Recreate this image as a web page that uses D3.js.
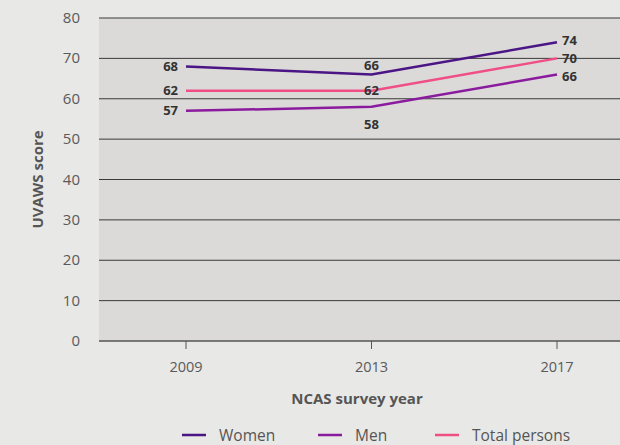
<!DOCTYPE html>
<html>
<head>
<meta charset="utf-8">
<script src="https://cdn.jsdelivr.net/npm/d3@7"></script>
<style>
  body { margin: 0; background: #e8e8e6; }
  svg { display: block; font-family: "Open Sans", "Noto Sans", sans-serif; }
</style>
</head>
<body>
<div id="chart"></div>
<script>
const years = ["2009", "2013", "2017"];
const women = [68, 66, 74];
const men = [57, 58, 66];
const total = [62, 62, 70];
const yTicks = [0, 10, 20, 30, 40, 50, 60, 70, 80];

const series = [
    {name: "Women", values: women, color: "#4b1585", labelDy: [0, -9, -1.5]},
    {name: "Men", values: men, color: "#8b1b9e", labelDy: [0, 18, 1.5]},
    {name: "Total persons", values: total, color: "#f04e87", labelDy: [0, 0, 0]}
];

let width = 620, height = 445;
let plotLeft = 99, plotRight = 620, plotTop = 18, plotBottom = 341;

let svg = d3.select("#chart").append("svg")
    .attr("width", width)
    .attr("height", height);

let x = d3.scalePoint().domain(years).range([186, 557]);
let y = d3.scaleLinear().domain([0, 80]).range([plotBottom, plotTop]);

// plot background
svg.append("rect")
    .attr("x", plotLeft).attr("y", plotTop)
    .attr("width", plotRight - plotLeft).attr("height", plotBottom - plotTop)
    .attr("fill", "#dbdad8");

// gridlines + y labels
let grid = svg.append("g");
grid.selectAll("line").data(yTicks).enter().append("line")
    .attr("x1", plotLeft).attr("x2", plotRight)
    .attr("y1", d => y(d)).attr("y2", d => y(d))
    .attr("stroke", d => d === 0 ? "#555" : "#3a3a3a")
    .attr("stroke-width", d => d === 0 ? 1.5 : 1);
grid.selectAll("text").data(yTicks).enter().append("text")
    .attr("x", 80).attr("y", d => y(d) + 5)
    .attr("text-anchor", "end")
    .attr("font-size", 15)
    .attr("fill", "#5a5a5a")
    .text(d => d);

// x axis ticks + labels
let xa = svg.append("g");
xa.selectAll("line").data(years).enter().append("line")
    .attr("x1", d => x(d)).attr("x2", d => x(d))
    .attr("y1", plotBottom).attr("y2", plotBottom + 8)
    .attr("stroke", "#555").attr("stroke-width", 1);
xa.selectAll("text").data(years).enter().append("text")
    .attr("x", d => x(d)).attr("y", plotBottom + 31)
    .attr("text-anchor", "middle")
    .attr("font-size", 14.5)
    .attr("fill", "#5a5a5a")
    .text(d => d);

// axis titles
svg.append("text")
    .attr("transform", "translate(43," + ((plotTop + plotBottom) / 2) + ") rotate(-90)")
    .attr("text-anchor", "middle")
    .attr("font-size", 15).attr("font-weight", "bold")
    .attr("fill", "#555")
    .text("UVAWS score");
svg.append("text")
    .attr("x", 357).attr("y", 404)
    .attr("text-anchor", "middle")
    .attr("font-size", 15).attr("font-weight", "bold")
    .attr("fill", "#555")
    .text("NCAS survey year");

// lines
let line = d3.line().x((d, i) => x(years[i])).y(d => y(d));
series.forEach(s => {
    svg.append("path")
        .datum(s.values)
        .attr("d", line)
        .attr("fill", "none")
        .attr("stroke", s.color)
        .attr("stroke-width", 2.5);
});

// value labels
series.forEach(s => {
    svg.append("g").selectAll("text")
        .data(s.values).enter().append("text")
        .attr("x", (d, i) => i === 0 ? x(years[i]) - 8 : (i === 2 ? x(years[i]) + 5 : x(years[i])))
        .attr("y", (d, i) => y(d) + 4.5 + s.labelDy[i])
        .attr("text-anchor", (d, i) => i === 0 ? "end" : (i === 2 ? "start" : "middle"))
        .attr("font-size", 13).attr("font-weight", "bold")
        .attr("fill", "#333")
        .text(d => d);
});

// legend
let legendX = [182, 318, 435];
let legend = svg.append("g").selectAll("g").data(series).enter().append("g")
    .attr("transform", (d, i) => "translate(" + legendX[i] + ",435)");
legend.append("line")
    .attr("x1", 0).attr("x2", 24).attr("y1", 0).attr("y2", 0)
    .attr("stroke", d => d.color).attr("stroke-width", 2.5);
legend.append("text")
    .attr("x", 37).attr("y", 5.5)
    .attr("font-size", 15.5)
    .attr("fill", "#555")
    .text(d => d.name);
</script>
</body>
</html>
